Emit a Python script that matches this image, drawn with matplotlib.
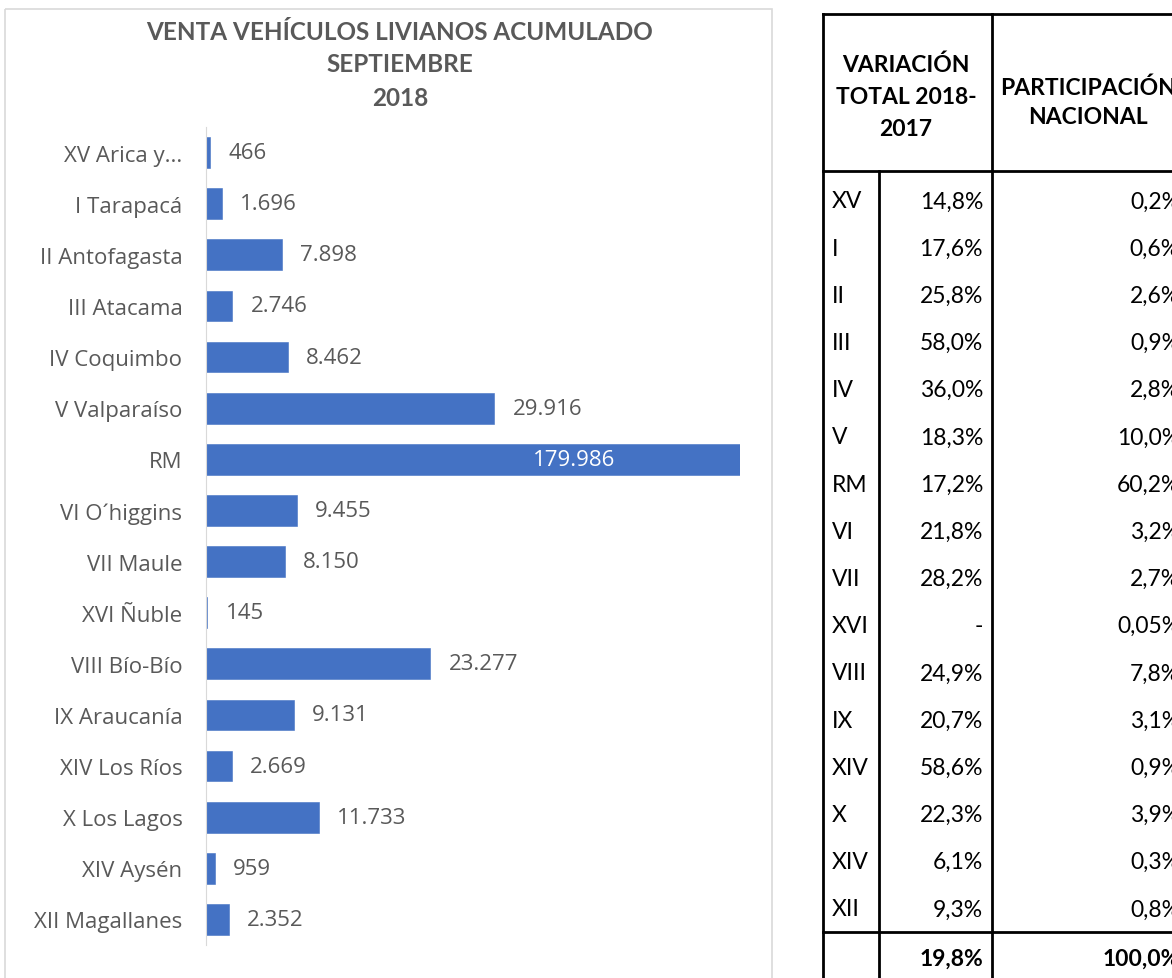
import matplotlib
matplotlib.use("Agg")
import matplotlib.pyplot as plt
import numpy as np
from matplotlib.patches import Rectangle

plt.rcParams["font.family"] = ["Lato", "DejaVu Sans"]

# chart data
regions = ["XV Arica y...", "I Tarapacá", "II Antofagasta", "III Atacama", "IV Coquimbo",
           "V Valparaíso", "RM", "VI O´higgins", "VII Maule", "XVI Ñuble", "VIII Bío-Bío",
           "IX Araucanía", "XIV Los Ríos", "X Los Lagos", "XIV Aysén", "XII Magallanes"]
sales = [466, 1696, 7898, 2746, 8462, 29916, 179986, 9455, 8150, 145, 23277,
         9131, 2669, 11733, 959, 2352]
axis_max = 55400  # the original axis is cut off well below RM
title_lines = ["VENTA VEHÍCULOS LIVIANOS ACUMULADO", "SEPTIEMBRE", "2018"]

# table data
codes = ["XV", "I", "II", "III", "IV", "V", "RM", "VI", "VII", "XVI", "VIII",
         "IX", "XIV", "X", "XIV", "XII"]
variation = [14.8, 17.6, 25.8, 58.0, 36.0, 18.3, 17.2, 21.8, 28.2, None, 24.9,
             20.7, 58.6, 22.3, 6.1, 9.3]
share = [0.2, 0.6, 2.6, 0.9, 2.8, 10.0, 60.2, 3.2, 2.7, 0.05, 7.8,
         3.1, 0.9, 3.9, 0.3, 0.8]
total_variation = 19.8
total_share = 100.0
head_var = ["VARIACIÓN", "TOTAL 2018-", "2017"]
head_share = ["PARTICIPACIÓN", "NACIONAL"]

TEXT = "#595959"
BAR = "#4472C4"
W, H = 1172, 979
CHART_FONT = ["Open Sans", "DejaVu Sans"]
CHART_SIZE = 16


def fmt_thousands(v):
    return f"{v:,}".replace(",", ".")


def fmt_pct(v):
    if v is None:
        return "-"
    s = f"{v:.1f}" if round(v, 1) == v else f"{v:.2f}"
    return s.replace(".", ",") + "%"


fig = plt.figure(figsize=(W / 100, H / 100), dpi=100)

# overlay in pixel coordinates for frame, title and table
ov = fig.add_axes([0, 0, 1, 1], zorder=0)
ov.set_xlim(0, W)
ov.set_ylim(H, 0)
ov.axis("off")
ov.add_patch(Rectangle((5, 10), 767, 990, fill=False, edgecolor="#d9d9d9", lw=1.2, clip_on=False))

for line, yy in zip(title_lines, (32, 65, 98)):
    ov.text(400, yy, line, ha="center", va="center", fontsize=17.5, fontweight="bold",
            color=TEXT)

# bar chart
ax = fig.add_axes([206 / W, 1 - 946 / H, (740 - 206) / W, (946 - 128) / H], zorder=1)
ax.patch.set_alpha(0)
y = np.arange(len(regions))
ax.barh(y, sales, height=0.6, color=BAR, edgecolor=BAR, linewidth=0.4)
ax.set_xlim(0, axis_max)
ax.set_ylim(len(regions) - 0.5, -0.5)
ax.set_yticks(y)
ax.set_yticklabels(regions, color=TEXT, fontsize=CHART_SIZE, family=CHART_FONT)
ax.tick_params(axis="y", length=0, pad=17)
ax.set_xticks([])
for s in ("top", "right", "bottom"):
    ax.spines[s].set_visible(False)
ax.spines["left"].set_color("#d9d9d9")

for yi, v in zip(y, sales):
    if v > axis_max:
        ax.text(axis_max * 0.69, yi, fmt_thousands(v), color="white", fontsize=CHART_SIZE,
                family=CHART_FONT, ha="center", va="center")
    else:
        ax.annotate(fmt_thousands(v), (v, yi), xytext=(13, 0), textcoords="offset points",
                    color=TEXT, fontsize=CHART_SIZE, family=CHART_FONT, ha="left", va="center")

# table
x0, x1, x2, xr = 823, 879, 992, 1190
top, head_bot, tot_top, bot = 15, 172, 933, 1000
lw = 2
for xx in (x0, x2):
    ov.plot([xx, xx], [top, bot], color="black", lw=lw, clip_on=False)
ov.plot([x1, x1], [head_bot, bot], color="black", lw=lw, clip_on=False)
for yy in (top, head_bot, tot_top):
    ov.plot([x0, xr], [yy, yy], color="black", lw=lw, clip_on=False)

for line, yy in zip(head_var, (65, 98, 130)):
    ov.text(906, yy, line, ha="center", va="center", fontsize=16.5, fontweight="bold",
            color="black")
for line, yy in zip(head_share, (88, 117)):
    ov.text(1088, yy, line, ha="center", va="center", fontsize=16.5, fontweight="bold",
            color="black")

row0, row_step = 202, 47.2
for i, (c, v, p) in enumerate(zip(codes, variation, share)):
    yy = row0 + i * row_step
    ov.text(832, yy, c, ha="left", va="center", fontsize=16.5, color="black")
    ov.text(983, yy, fmt_pct(v), ha="right", va="center", fontsize=16.5, color="black")
    ov.text(1180, yy, fmt_pct(p), ha="right", va="center", fontsize=16.5, color="black")

ov.text(983, 959, fmt_pct(total_variation), ha="right", va="center", fontsize=16.5,
        fontweight="bold", color="black")
ov.text(1180, 959, fmt_pct(total_share), ha="right", va="center", fontsize=16.5,
        fontweight="bold", color="black")

fig.savefig("out.png", dpi=100)
